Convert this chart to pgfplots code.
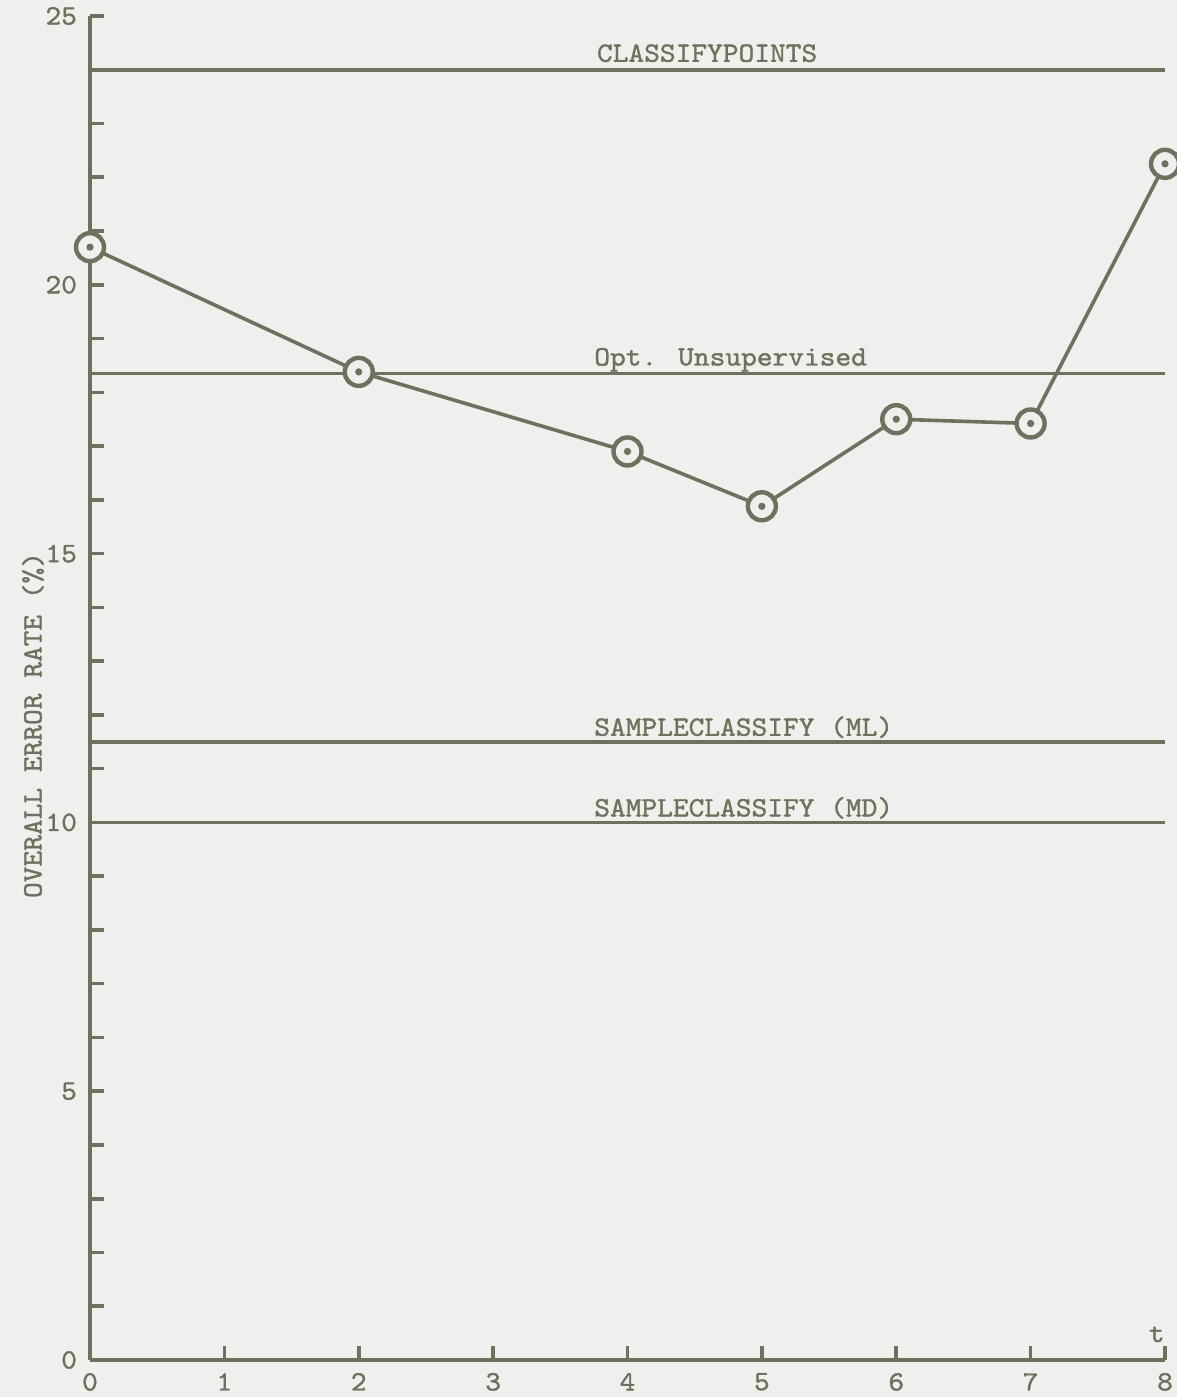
\documentclass[border=0pt]{standalone}
\usepackage{pgfplots}
\pgfplotsset{compat=1.18}
\usepackage{fontspec}
\usetikzlibrary{backgrounds}
\newfontfamily\tw{lmmono10-regular.otf}[FakeStretch=1.07, FakeBold=1.2]
\newcommand\typer{\fontsize{14pt}{16pt}\tw}
\definecolor{ink}{RGB}{112,112,94}
\definecolor{paper}{RGB}{239,239,237}

% ring with a centre dot, as on the typed figure
\pgfdeclareplotmark{ringdot}{%
  \pgfsetfillcolor{paper}%
  \pgfpathcircle{\pgfpointorigin}{\pgfplotmarksize}%
  \pgfusepathqfillstroke
  \pgfsetfillcolor{ink}%
  \pgfpathcircle{\pgfpointorigin}{0.26\pgfplotmarksize}%
  \pgfusepathqfill
}

\begin{document}
\begin{tikzpicture}
\begin{axis}[
  name=ax,
  scale only axis,
  width=537.5pt, height=672pt,
  xmin=0, xmax=8, ymin=0, ymax=25,
  axis x line=bottom, axis y line=left,
  axis line style={-, ink, line width=1.8pt},
  xtick={0,...,8},
  ytick={0,5,...,25},
  minor y tick num=4,
  tick align=inside,
  major tick length=7pt, minor tick length=7pt,
  tick style={ink, line width=1.8pt},
  ticklabel style={font=\typer, text=ink},
  yticklabel style={xshift=-3pt},
  xticklabel style={yshift=-3pt},
  /pgf/number format/assume math mode=true,
  clip=false,
]
% reference methods
\addplot[ink, line width=1.8pt] coordinates {(0,24) (8,24)};
\addplot[ink, line width=1.8pt] coordinates {(0,18.35) (8,18.35)};
\addplot[ink, line width=1.8pt] coordinates {(0,11.5) (8,11.5)};
\addplot[ink, line width=1.8pt] coordinates {(0,10) (8,10)};
% error rate versus t
\addplot[ink, line width=1.8pt, mark=ringdot, mark size=7pt,
  mark options={draw=ink, line width=2.2pt}]
  coordinates {(0,20.7) (2,18.38) (4,16.9) (5,15.88) (6,17.5) (7,17.42) (8,22.25)};

\node[anchor=base west, font=\typer, text=ink, inner sep=0pt, yshift=4pt] at (axis cs:3.77,24) {CLASSIFYPOINTS};
\node[anchor=base west, font=\typer, text=ink, inner sep=0pt, yshift=4pt] at (axis cs:3.75,18.35) {Opt. Unsupervised};
\node[anchor=base west, font=\typer, text=ink, inner sep=0pt, yshift=3pt] at (axis cs:3.75,11.5) {SAMPLECLASSIFY (ML)};
\node[anchor=base west, font=\typer, text=ink, inner sep=0pt, yshift=3pt] at (axis cs:3.75,10) {SAMPLECLASSIFY (MD)};
\node[anchor=base east, font=\typer, text=ink, inner sep=0pt, yshift=9pt] at (axis cs:8,0) {t};
\node[rotate=90, font=\typer, text=ink] at ([xshift=-28.5pt]axis description cs:0,0.4725) {OVERALL ERROR RATE (\%)};
\end{axis}
\pgfresetboundingbox
\path[use as bounding box] ([shift={(-45pt,-18.5pt)}]ax.south west) rectangle ([shift={(6pt,8pt)}]ax.north east);
\begin{scope}[on background layer]
\fill[paper] ([shift={(-45pt,-18.5pt)}]ax.south west) rectangle ([shift={(6pt,8pt)}]ax.north east);
\end{scope}
\end{tikzpicture}
\end{document}
